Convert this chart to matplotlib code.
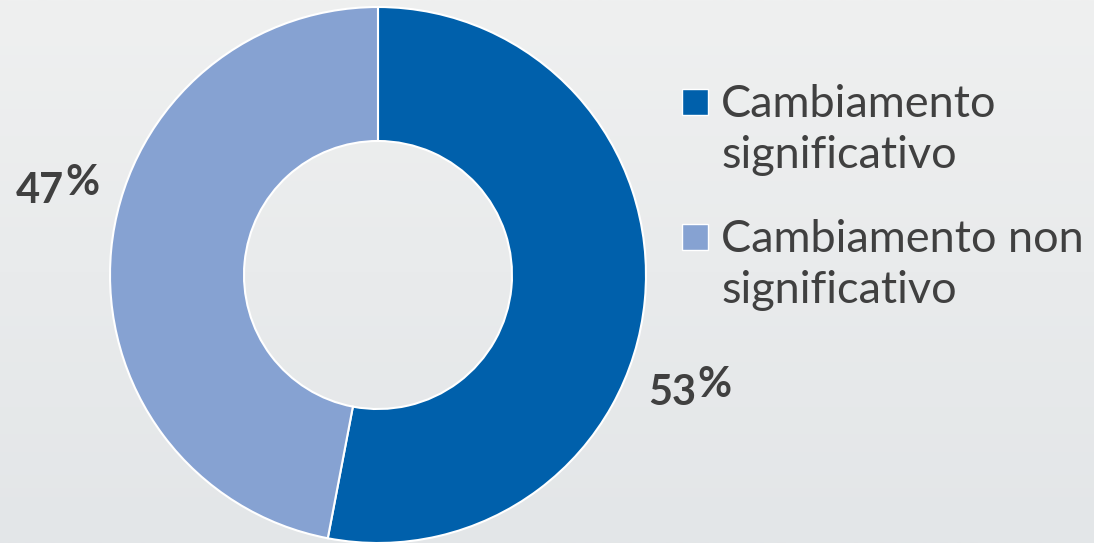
import numpy as np
import matplotlib.pyplot as plt
from matplotlib.colors import LinearSegmentedColormap
from matplotlib.patches import Rectangle

labels = ["Cambiamento\nsignificativo", "Cambiamento non\nsignificativo"]
shares = [53, 47]
colors = ["#0060ab", "#86a2d2"]

W, H = 1094, 543
fig = plt.figure(figsize=(W / 100, H / 100), dpi=100)
ax = fig.add_axes([0, 0, 1, 1])
ax.set_xlim(0, W)
ax.set_ylim(0, H)
ax.set_aspect("equal")
ax.axis("off")

# soft vertical background gradient
bg = LinearSegmentedColormap.from_list("bg", ["#e3e6e8", "#eff0f0"])
grad = np.linspace(0, 1, 256).reshape(-1, 1)
ax.imshow(grad, cmap=bg, extent=[0, W, 0, H], origin="lower", aspect="auto", zorder=0)

cx, cy, r = 378, H - 275, 268
wedges, _ = ax.pie(shares, colors=colors, startangle=90, counterclock=False,
                   center=(cx, cy), radius=r,
                   wedgeprops=dict(width=r * 0.5, edgecolor="white", linewidth=1.5))
ax.set_xlim(0, W)
ax.set_ylim(0, H)

txt = "#404040"
# percentage labels, with the % sign sitting a bit higher than the digits
pct_pos = [(696, 405), (64, 203)]
for (x, y), v in zip(pct_pos, shares):
    ax.text(x, H - y, str(v), ha="right", va="baseline", fontsize=30,
            fontweight="bold", family="Lato", color=txt)
    ax.text(x + 1, H - y + 8, "%", ha="left", va="baseline", fontsize=30,
            fontweight="bold", family="Lato", color=txt)

# legend: colour square plus a two-line label
leg_base = [117, 252]
for lab, col, y0 in zip(labels, colors, leg_base):
    ax.add_patch(Rectangle((682, H - y0 + 2), 26, 26, facecolor=col,
                           edgecolor="white", linewidth=1, zorder=3))
    for i, line in enumerate(lab.split("\n")):
        ax.text(721, H - (y0 + 51 * i), line, ha="left", va="baseline",
                fontsize=32.5, family="Lato", color=txt)

fig.savefig("out.png", dpi=100)
